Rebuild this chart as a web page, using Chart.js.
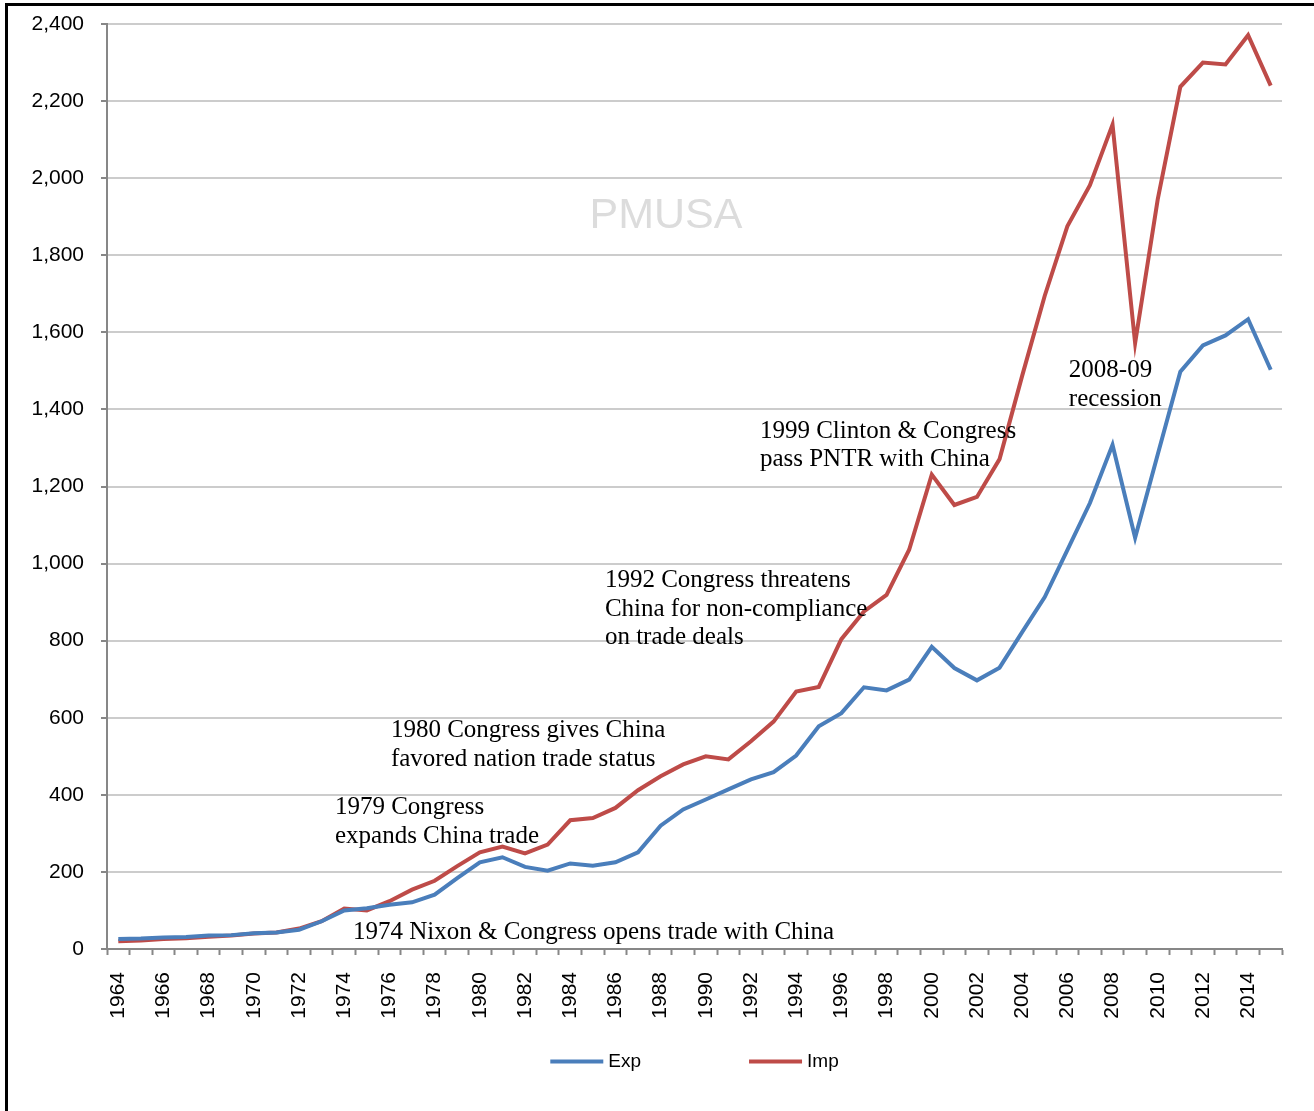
<!DOCTYPE html>
<html><head><meta charset="utf-8">
<script src="https://cdn.jsdelivr.net/npm/chart.js@4.4.1/dist/chart.umd.min.js"></script>
<style>
html,body{margin:0;padding:0;background:#fff;}
#wrap{position:relative;width:1314px;height:1111px;overflow:hidden;background:#fff;}
#frame{position:absolute;left:5px;top:3px;width:1400px;height:1300px;border:3px solid #000;box-sizing:border-box;}
canvas{position:absolute;left:0;top:0;}
</style></head>
<body><div id="wrap"><div id="frame"></div><canvas id="c" width="1314" height="1111"></canvas></div>
<script>
const years = [];
for (let y = 1964; y <= 2015; y++) years.push(String(y));

const seriesNames = ['Exp', 'Imp'];
const expValues = [26,27,30,31,35,36,41,43,50,72, 100,106,115,121,141,184,225,238,213,203,
  222,216,225,251,320,362,388,414,440,459, 502,578,612,679,671,699,784,729,697,730,
  822,913,1035,1157,1308,1067,1283,1498,1566,1592, 1634,1503];
const impValues = [20,22,26,28,32,35,40,43,53,72, 105,100,124,154,177,215,251,266,248,271,
  334,340,366,412,448,479,500,492,539,590, 668,680,804,876,919,1036,1231,1152,1173,1271,
  1487,1695,1875,1982,2139,1572,1945,2237,2300,2295, 2371,2240];

const yMin = 0, yMax = 2400, yStep = 200;

// annotation texts, anchored in data coordinates (category index, value)
const noteTexts = [
  ['1974 Nixon & Congress opens trade with China'],
  ['1979 Congress', 'expands China trade'],
  ['1980 Congress gives China', 'favored nation trade status'],
  ['1992 Congress threatens', 'China for non-compliance', 'on trade deals'],
  ['1999 Clinton & Congress', 'pass PNTR with China'],
  ['2008-09', 'recession']
];
const noteAt = [10.385, 9.588, 12.066, 21.535, 28.394, 42.066];
const noteValue = [26, 350, 550, 939, 1326, 1484];
const watermarkText = 'PMUSA';
const watermarkAt = 24.235, watermarkValue = 1902;

const colors = ['#4a7ebb', '#be4b48'];

const overlay = {
  id: 'overlay',
  beforeDatasetsDraw(chart) {
    const {ctx, scales: {x, y}} = chart;
    ctx.save();
    ctx.font = '43px "Liberation Sans", Arial, sans-serif';
    ctx.fillStyle = '#dcdcdc';
    ctx.textAlign = 'center';
    ctx.textBaseline = 'middle';
    ctx.fillText(watermarkText, x.getPixelForValue(watermarkAt), y.getPixelForValue(watermarkValue));
    ctx.restore();
  },
  afterDatasetsDraw(chart) {
    const {ctx, scales: {x, y}, chartArea} = chart;
    ctx.save();
    ctx.font = '25px "Liberation Serif", "Times New Roman", serif';
    ctx.fillStyle = '#000';
    ctx.textAlign = 'left';
    ctx.textBaseline = 'alphabetic';
    noteTexts.forEach((lines, i) => {
      const px = x.getPixelForValue(noteAt[i]);
      const py = y.getPixelForValue(noteValue[i]);
      lines.forEach((t, j) => ctx.fillText(t, px, py + j * 28.5));
    });
    // legend
    ctx.font = '19px "Liberation Sans", Arial, sans-serif';
    ctx.textBaseline = 'middle';
    const lineW = 53, gapText = 5, gapItem = 108;
    const widths = chart.data.datasets.map(d => lineW + gapText + ctx.measureText(d.label).width);
    const total = widths.reduce((a, b) => a + b, 0) + gapItem * (widths.length - 1);
    let cx = (chartArea.left + chartArea.right) / 2 - total / 2;
    const cy = chartArea.bottom + 112.5;
    chart.data.datasets.forEach((d, i) => {
      ctx.strokeStyle = d.borderColor;
      ctx.lineWidth = 4;
      ctx.lineCap = 'butt';
      ctx.beginPath();
      ctx.moveTo(cx, cy); ctx.lineTo(cx + lineW, cy); ctx.stroke();
      ctx.fillStyle = '#000';
      ctx.fillText(d.label, cx + lineW + gapText, cy);
      cx += widths[i] + gapItem;
    });
    ctx.restore();
  }
};

new Chart(document.getElementById('c'), {
  type: 'line',
  data: {
    labels: years,
    datasets: [
      {label: seriesNames[0], data: expValues, borderColor: colors[0], backgroundColor: colors[0]},
      {label: seriesNames[1], data: impValues, borderColor: colors[1], backgroundColor: colors[1]}
    ]
  },
  options: {
    responsive: false,
    animation: false,
    devicePixelRatio: 1,
    layout: {padding: {left: 0, right: 32, top: 24, bottom: 0}},
    plugins: {legend: {display: false}, tooltip: {enabled: false}},
    elements: {point: {radius: 0}, line: {borderWidth: 4, tension: 0, borderJoinStyle: 'miter'}},
    scales: {
      x: {
        offset: true,
        grid: {offset: true, drawOnChartArea: false, drawTicks: true, tickLength: 6, tickColor: '#878787', tickWidth: 2},
        border: {color: '#878787', width: 2},
        ticks: {
          autoSkip: false, minRotation: 90, maxRotation: 90, padding: 17, color: '#000',
          font: {family: '"Liberation Sans", Arial, sans-serif', size: 21},
          callback: function (v, i) { return i % 2 === 0 ? this.getLabelForValue(v) : ''; }
        },
        afterFit(s) { s.height = 162; s.paddingLeft = 0; s.paddingRight = 0; }
      },
      y: {
        min: yMin, max: yMax,
        ticks: {stepSize: yStep, padding: 17, color: '#000', font: {family: '"Liberation Sans", Arial, sans-serif', size: 21}},
        grid: {color: '#cccccc', lineWidth: 2, tickLength: 6, tickColor: '#878787', tickWidth: 2},
        border: {color: '#878787', width: 2},
        afterFit(s) { s.width = 107; s.paddingTop = 0; s.paddingBottom = 0; }
      }
    }
  },
  plugins: [overlay]
});
</script>
</body></html>
